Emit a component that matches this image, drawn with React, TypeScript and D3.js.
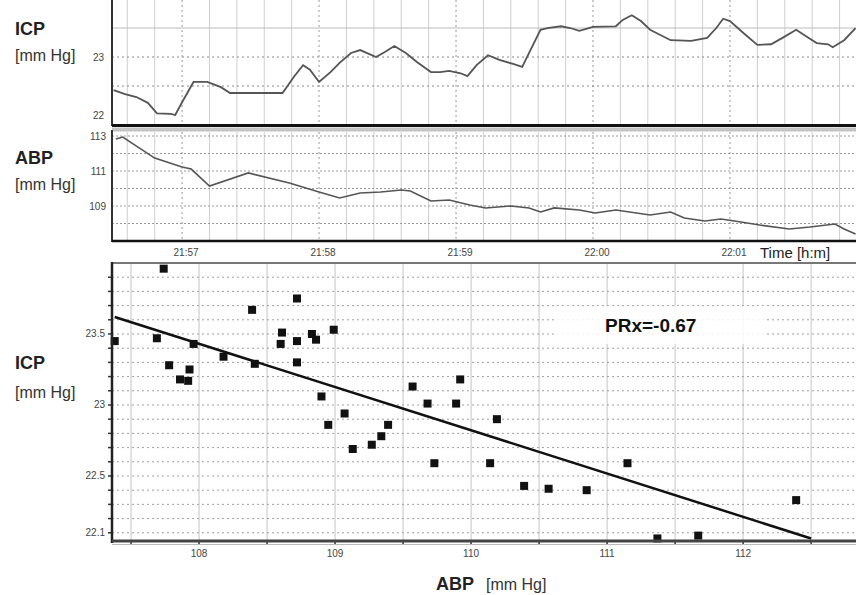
import React from "react";
import * as d3 from "d3";

const W = 866;
const H = 595;

// seconds after 21:56:00
const icpTime = [30, 35, 40, 45, 49, 55, 57, 60, 65, 71, 77, 81, 84, 102, 104, 109, 113, 116, 120, 125, 129, 134, 138, 145, 149, 153, 158, 163, 169, 173, 177, 182, 185, 189, 194, 199, 205, 209, 212, 217, 220, 226, 230, 234, 240, 250, 253, 257, 261, 265, 274, 283, 290, 294, 297, 300, 306, 312, 318, 323, 329, 334, 338, 343, 345, 350, 355];
const icpValue = [22.43, 22.36, 22.31, 22.21, 22.03, 22.02, 22.0, 22.22, 22.57, 22.57, 22.48, 22.38, 22.38, 22.38, 22.38, 22.66, 22.86, 22.78, 22.57, 22.74, 22.9, 23.07, 23.12, 23.0, 23.09, 23.19, 23.07, 22.91, 22.74, 22.74, 22.76, 22.72, 22.67, 22.86, 23.03, 22.95, 22.88, 22.83, 23.07, 23.47, 23.5, 23.53, 23.5, 23.45, 23.52, 23.53, 23.64, 23.72, 23.62, 23.47, 23.29, 23.28, 23.33, 23.5, 23.66, 23.62, 23.41, 23.21, 23.22, 23.33, 23.47, 23.34, 23.24, 23.22, 23.17, 23.29, 23.5];

const abpTime = [31, 34, 48, 60, 64, 72, 89, 107, 120, 129, 138, 147, 156, 160, 169, 177, 186, 193, 204, 212, 217, 223, 234, 241, 250, 265, 274, 280, 289, 296, 302, 313, 326, 335, 346, 350, 355];
const abpValue = [112.83, 112.94, 111.74, 111.23, 111.11, 110.14, 110.89, 110.31, 109.8, 109.46, 109.74, 109.8, 109.91, 109.86, 109.29, 109.34, 109.06, 108.89, 109.0, 108.89, 108.66, 108.89, 108.77, 108.6, 108.77, 108.49, 108.66, 108.31, 108.14, 108.26, 108.14, 107.91, 107.69, 107.8, 107.97, 107.69, 107.4];

const timeTicks = ["21:57", "21:58", "21:59", "22:00", "22:01"];
const icpTopTicks = [22, 23];
const abpTicks = [109, 111, 113];

const scatterAbp = [107.38, 107.74, 107.69, 107.78, 107.86, 107.92, 107.93, 107.96, 108.18, 108.41, 108.39, 108.61, 108.6, 108.72, 108.72, 108.72, 108.83, 108.86, 108.99, 108.9, 109.07, 108.95, 109.13, 109.27, 109.34, 109.39, 109.57, 109.68, 109.89, 109.92, 109.73, 110.19, 110.14, 110.39, 110.57, 110.85, 111.15, 111.37, 111.67, 112.39];
const scatterIcp = [23.45, 23.96, 23.47, 23.28, 23.18, 23.17, 23.25, 23.43, 23.34, 23.29, 23.67, 23.51, 23.43, 23.75, 23.45, 23.3, 23.5, 23.46, 23.53, 23.06, 22.94, 22.86, 22.69, 22.72, 22.78, 22.86, 23.13, 23.01, 23.01, 23.18, 22.59, 22.9, 22.59, 22.43, 22.41, 22.4, 22.59, 22.06, 22.08, 22.33];
const fitAbp = [107.38, 112.5];
const fitIcp = [23.62, 22.06];
const scatterXTicks = [108, 109, 110, 111, 112];
const scatterYTicks = [22.1, 22.5, 23, 23.5];
const prxLabel = "PRx=-0.67";

const parseHM = d3.timeParse("%H:%M");
const base = parseHM("21:56")!;
const toDate = (s: number) => new Date(base.getTime() + s * 1000);

const LEFT = 112;
const RIGHT = 856;

export default function App() {
  const x = d3.scaleTime().domain([toDate(29.3), toDate(355.2)]).range([LEFT, RIGHT]);
  const yIcp = d3.scaleLinear().domain([21.828, 23.983]).range([125, 0]);
  const yAbp = d3.scaleLinear().domain([107.0, 113.343]).range([241, 130]);
  const sx = d3.scaleLinear().domain([107.36, 112.83]).range([LEFT, RIGHT]);
  const sy = d3.scaleLinear().domain([22.042, 24.0]).range([541, 263]);

  const icpLine = d3.line<number>().x((_, i) => x(toDate(icpTime[i]))).y(d => yIcp(d));
  const abpLine = d3.line<number>().x((_, i) => x(toDate(abpTime[i]))).y(d => yAbp(d));

  const subGrid = d3.range(36, 355, 12).map(toDate);
  const minuteDates = timeTicks.map(t => parseHM(t)!);
  const isMinute = (d: Date) => d.getSeconds() === 0;

  const sxGrid = d3.range(107.5, 112.8, 0.5);
  const syGrid = d3.range(22.1, 24.0, 0.1);

  const font = "'Liberation Sans', Arial, sans-serif";
  const tickFont = { fontFamily: font, fontSize: 10, fill: "#444" };

  return (
    <svg width={W} height={H} style={{ position: "absolute", left: 0, top: 0, background: "#fff" }}>
      <rect width={W} height={H} fill="#fff" />

      {/* ---- top panel: ICP trend ---- */}
      <g>
        {subGrid.map((d, i) => (
          <line key={i} x1={x(d)} x2={x(d)} y1={0} y2={125}
            stroke={isMinute(d) ? "#999" : "#cfcfcf"} strokeDasharray={isMinute(d) ? "2,3" : undefined} />
        ))}
        <line x1={LEFT} x2={RIGHT} y1={yIcp(23.5)} y2={yIcp(23.5)} stroke="#bdbdbd" />
        {[22.5, 23].map(v => (
          <line key={v} x1={LEFT} x2={RIGHT} y1={yIcp(v)} y2={yIcp(v)} stroke="#8a8a8a" strokeDasharray="2,3" />
        ))}
        {icpTopTicks.map(v => (
          <text key={v} x={104} y={yIcp(v) + 3.5} textAnchor="end" {...tickFont}>{v}</text>
        ))}
        <path d={icpLine(icpValue) ?? ""} fill="none" stroke="#555" strokeWidth={1.8} />
        <line x1={LEFT} x2={LEFT} y1={0} y2={126} stroke="#333" strokeWidth={2} />
        <line x1={LEFT} x2={RIGHT} y1={125.5} y2={125.5} stroke="#111" strokeWidth={3} />
        <text x={15} y={35} fontFamily={font} fontWeight="bold" fontSize={18} fill="#222">ICP</text>
        <text x={15} y={61} fontFamily={font} fontSize={16} fill="#333">[mm Hg]</text>
      </g>

      {/* ---- middle panel: ABP trend ---- */}
      <g>
        <rect x={LEFT} y={127.5} width={RIGHT - LEFT} height={4} fill="#c4c4c4" />
        {subGrid.map((d, i) => (
          <line key={i} x1={x(d)} x2={x(d)} y1={132} y2={241}
            stroke={isMinute(d) ? "#999" : "#cfcfcf"} strokeDasharray={isMinute(d) ? "2,3" : undefined} />
        ))}
        {d3.range(108, 114, 1).map(v => (
          <line key={v} x1={LEFT} x2={RIGHT} y1={yAbp(v)} y2={yAbp(v)} stroke="#9a9a9a" strokeDasharray="2,2" />
        ))}
        {abpTicks.map(v => (
          <text key={v} x={106} y={yAbp(v) + 3.5} textAnchor="end" {...tickFont}>{v}</text>
        ))}
        <path d={abpLine(abpValue) ?? ""} fill="none" stroke="#555" strokeWidth={1.6} />
        <line x1={LEFT} x2={LEFT} y1={130} y2={242} stroke="#333" strokeWidth={2} />
        <line x1={LEFT} x2={RIGHT} y1={241} y2={241} stroke="#111" strokeWidth={2.5} />
        {minuteDates.map((d, i) => (
          <text key={i} x={x(d) + 4} y={256} textAnchor="middle" {...tickFont}>{timeTicks[i]}</text>
        ))}
        <rect x={758} y={243} width={92} height={18} fill="#fff" />
        <text x={760} y={258} fontFamily={font} fontSize={15} fill="#222">Time [h:m]</text>
        <text x={15} y={164} fontFamily={font} fontWeight="bold" fontSize={18} fill="#222">ABP</text>
        <text x={15} y={190} fontFamily={font} fontSize={16} fill="#333">[mm Hg]</text>
      </g>

      {/* ---- bottom panel: ICP vs ABP scatter ---- */}
      <g>
        {sxGrid.map(v => (
          <line key={v} x1={sx(v)} x2={sx(v)} y1={263} y2={541} stroke="#c4c4c4" />
        ))}
        {syGrid.map((v, i) => (
          <line key={i} x1={LEFT} x2={RIGHT} y1={sy(v)} y2={sy(v)} stroke="#a0a0a0" strokeDasharray="2,3" />
        ))}
        {syGrid.map((v, i) => (
          <line key={i} x1={LEFT - 4} x2={LEFT} y1={sy(v)} y2={sy(v)} stroke="#333" strokeWidth={1.5} />
        ))}
        {sxGrid.map(v => (
          <line key={v} x1={sx(v)} x2={sx(v)} y1={541} y2={545} stroke="#333" strokeWidth={1.5} />
        ))}
        <rect x={556} y={306} width={208} height={38} fill="#fff" opacity={0.85} />
        <line x1={sx(fitAbp[0])} x2={sx(fitAbp[1])} y1={sy(fitIcp[0])} y2={sy(fitIcp[1])} stroke="#111" strokeWidth={2.5} />
        {scatterAbp.map((v, i) => (
          <rect key={i} x={sx(v) - 4} y={sy(scatterIcp[i]) - 4} width={8} height={8} fill="#111" />
        ))}
        <line x1={LEFT} x2={RIGHT} y1={263} y2={263} stroke="#777" strokeWidth={2} />
        <line x1={LEFT} x2={LEFT} y1={262} y2={543} stroke="#222" strokeWidth={2.5} />
        <line x1={LEFT} x2={RIGHT} y1={541} y2={541} stroke="#444" strokeWidth={3} />
        <line x1={LEFT} x2={RIGHT} y1={544.5} y2={544.5} stroke="#bbb" strokeWidth={1} />
        {scatterYTicks.map(v => (
          <text key={v} x={105} y={Math.min(sy(v), 535) + 3.5} textAnchor="end" {...tickFont}>{v}</text>
        ))}
        {scatterXTicks.map(v => (
          <text key={v} x={sx(v)} y={557} textAnchor="middle" {...tickFont}>{v}</text>
        ))}
        <text x={605} y={332} fontFamily={font} fontWeight="bold" fontSize={19} fill="#111">{prxLabel}</text>
        <text x={15} y={369} fontFamily={font} fontWeight="bold" fontSize={18} fill="#222">ICP</text>
        <text x={15} y={398} fontFamily={font} fontSize={16} fill="#333">[mm Hg]</text>
        <text x={436} y={590} fontFamily={font} fontWeight="bold" fontSize={18} fill="#222">ABP</text>
        <text x={486} y={590} fontFamily={font} fontSize={16} fill="#333">[mm Hg]</text>
      </g>
    </svg>
  );
}
